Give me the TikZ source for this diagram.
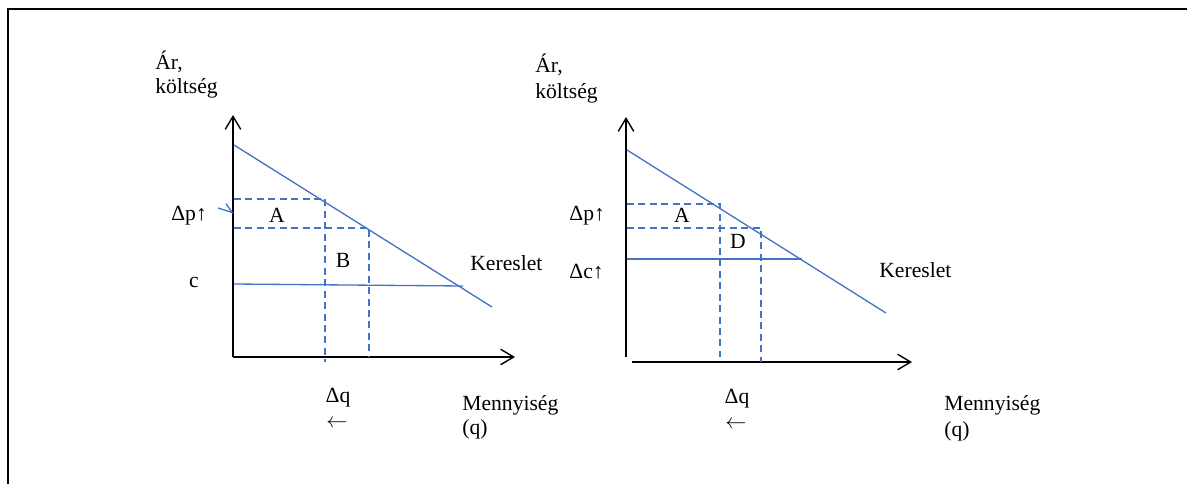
\documentclass[tikz,border=0pt]{standalone}
\usepackage{fontspec}
\setmainfont{Liberation Serif}
\usepackage{tikz}
\usetikzlibrary{arrows.meta, positioning, calc}
\definecolor{curveblue}{RGB}{68, 114, 196}
\definecolor{axisblack}{RGB}{0, 0, 0}
\tikzset{
  font=\fontsize{12.3}{14}\selectfont,
  axisline/.style={
    draw=axisblack, line width=0.9pt,
    -{Straight Barb[length=2.6mm, width=3.1mm, line width=0.8pt]}
  },
  demandline/.style={draw=curveblue, line width=0.75pt},
  costline/.style={draw=curveblue, line width=0.75pt},
  guideline/.style={
    draw=curveblue, line width=0.75pt, dash pattern=on 4pt off 2.5pt
  },
  pointer/.style={
    draw=curveblue, line width=0.75pt,
    -{Straight Barb[harpoon, length=1.7mm, width=2.6mm, line width=0.75pt]}
  },
  labeltext/.style={inner sep=0pt, anchor=base west},
  midtext/.style={inner sep=0pt, anchor=base},
  arrowtext/.style={inner sep=0pt, anchor=center, text height=0.6ex, text depth=0pt}
}

\begin{document}
\begin{tikzpicture}[x=0.02cm, y=-0.02cm]

  \useasboundingbox (0,0) rectangle (1187,484);

  % Frame (top and left edge only)
  \coordinate (frame_bl) at (8,484);
  \coordinate (frame_tl) at (8,9);
  \coordinate (frame_tr) at (1187,9);
  \draw[line width=1.4pt] (frame_bl) -- (frame_tl) -- (frame_tr);

  % ---------------- Left chart ----------------
  \coordinate (l_orig) at (233,357);
  \coordinate (l_ytop) at (233,115);
  \coordinate (l_xend) at (515,357);
  \draw[axisline] (l_orig) -- (l_ytop);
  \draw[axisline] (l_orig) -- (l_xend);

  % Demand and cost
  \coordinate (l_dem_a) at (234,145);
  \coordinate (l_dem_b) at (492,307);
  \draw[demandline] (l_dem_a) -- (l_dem_b);
  \coordinate (l_c_a) at (234,284);
  \coordinate (l_c_b) at (463,286);
  \draw[costline] (l_c_a) -- (l_c_b);

  % Price change rectangles
  \coordinate (l_p1) at (234,199);
  \coordinate (l_q1) at (325,199);
  \coordinate (l_q1b) at (325,362);
  \coordinate (l_p2) at (234,228);
  \coordinate (l_q2) at (369,228);
  \coordinate (l_q2b) at (369,357);
  \draw[guideline] (l_p1) -- (l_q1) -- (l_q1b);
  \draw[guideline] (l_p2) -- (l_q2) -- (l_q2b);

  % Pointer to price axis
  \coordinate (l_ptr_a) at (218,208);
  \coordinate (l_ptr_b) at (234,213);
  \draw[pointer] (l_ptr_a) -- (l_ptr_b);

  % Labels
  \node[labeltext] (l_ar) at (155,69) {Ár,};
  \node[labeltext] (l_kolt) at (155,93) {költség};
  \node[labeltext] (l_dp) at (171,220) {Δp↑};
  \node[midtext] (l_A) at (277,222) {A};
  \node[midtext] (l_B) at (343,267) {B};
  \node[midtext] (l_c) at (194,287) {c};
  \node[labeltext] (l_ker) at (470,270) {Kereslet};
  \node[midtext] (l_dq) at (338,402) {Δq};
  \node[arrowtext] (l_larr) at (337,425) {$\leftarrow$};
  \node[labeltext] (l_menny) at (462,410) {Mennyiség};
  \node[labeltext] (l_q) at (462,434) {(q)};

  % ---------------- Right chart ----------------
  \coordinate (r_orig) at (626,357);
  \coordinate (r_ytop) at (626,117);
  \coordinate (r_xorig) at (632,362);
  \coordinate (r_xend) at (912,362);
  \draw[axisline] (r_orig) -- (r_ytop);
  \draw[axisline] (r_xorig) -- (r_xend);

  % Demand and raised cost
  \coordinate (r_dem_a) at (627,150);
  \coordinate (r_dem_b) at (886,313);
  \draw[demandline] (r_dem_a) -- (r_dem_b);
  \coordinate (r_c_a) at (627,259);
  \coordinate (r_c_b) at (802,259);
  \draw[costline] (r_c_a) -- (r_c_b);

  % Price change rectangles
  \coordinate (r_p1) at (627,204);
  \coordinate (r_q1) at (720,204);
  \coordinate (r_q1b) at (720,357);
  \coordinate (r_p2) at (627,228);
  \coordinate (r_q2) at (761,228);
  \coordinate (r_q2b) at (761,362);
  \draw[guideline] (r_p1) -- (r_q1) -- (r_q1b);
  \draw[guideline] (r_p2) -- (r_q2) -- (r_q2b);

  % Labels
  \node[labeltext] (r_ar) at (535,72) {Ár,};
  \node[labeltext] (r_kolt) at (535,98) {költség};
  \node[labeltext] (r_dp) at (569,220) {Δp↑};
  \node[midtext] (r_A) at (682,222) {A};
  \node[midtext] (r_D) at (738,248) {D};
  \node[labeltext] (r_dc) at (569,278) {Δc↑};
  \node[labeltext] (r_ker) at (879,277) {Kereslet};
  \node[midtext] (r_dq) at (737,403) {Δq};
  \node[arrowtext] (r_larr) at (736,426) {$\leftarrow$};
  \node[labeltext] (r_menny) at (944,410) {Mennyiség};
  \node[labeltext] (r_q) at (944,436) {(q)};

\end{tikzpicture}
\end{document}
